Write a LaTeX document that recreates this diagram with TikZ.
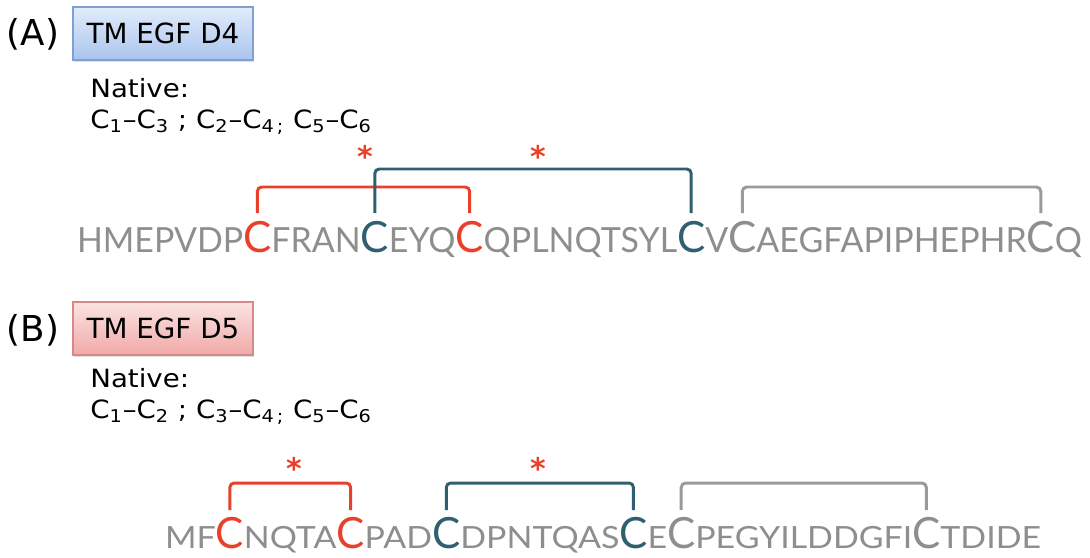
\documentclass[tikz,border=0pt]{standalone}
\usepackage{fontspec}
\setmainfont{DejaVu Sans}
\newfontfamily\seqfont[FakeStretch=0.98]{Lato}
\newfontfamily\seqwide[FakeStretch=1.11]{Lato}
\newfontfamily\notefont[FakeStretch=1.1]{DejaVu Sans}
\usetikzlibrary{positioning,shadows}
\definecolor{cysred}{HTML}{E8412B}
\definecolor{cysteal}{HTML}{2F5F71}
\definecolor{seqgray}{HTML}{8E8E8E}
\definecolor{bondgray}{HTML}{9A9A9A}
\definecolor{blueTop}{HTML}{E2ECFB}
\definecolor{blueBot}{HTML}{AAC4EE}
\definecolor{blueLine}{HTML}{7F9FD6}
\definecolor{redTop}{HTML}{FBE4E3}
\definecolor{redBot}{HTML}{F0A9A7}
\definecolor{redLine}{HTML}{D58A88}
\tikzset{
	seq/.style={inner sep=0pt, outer sep=0pt, text depth=0pt, text=seqgray, font=\seqfont\fontsize{19.7}{20}\selectfont},
	seqb/.style={seq, font=\seqwide\fontsize{17.4}{18}\selectfont},
	cys/.style={inner sep=0pt, outer sep=0pt, text depth=0pt, text=#1, font=\seqfont\fontsize{24.5}{25}\selectfont},
	bond/.style={line width=1.7pt, rounded corners=2.5pt, draw=#1},
	star/.style={text=cysred, font=\bfseries\fontsize{17}{17}\selectfont, inner sep=0pt},
	note/.style={anchor=base west, inner sep=0pt, font=\notefont\fontsize{14.3}{15}\selectfont},
	domainbox/.style={line width=0.6pt, minimum width=3.6cm, minimum height=1.06cm,
		font=\fontsize{15.8}{16}\selectfont, drop shadow={opacity=0.25, shadow xshift=0.6pt, shadow yshift=-1.2pt}},
}
\begin{document}
\begin{tikzpicture}
			\useasboundingbox (0,0) rectangle (21.8,-11.14);
			% panel A
			\node at (0.66,-0.68) (labA) {\fontsize{20.3}{21}\selectfont (A)};
			\node[domainbox, draw=blueLine, top color=blueTop, bottom color=blueBot] at (3.26,-0.67) (boxA) {TM EGF D4};
			\node[note] at (1.8,-1.94) (natA) {Native:};
			\node[note] at (1.8,-2.56) (pairA) {C\textsubscript{1}\textendash C\textsubscript{3} ; C\textsubscript{2}\textendash C\textsubscript{4\,;} C\textsubscript{5}\textendash C\textsubscript{6}};
			
			\node[seq, anchor=base west] at (1.54,-5.04) (a0) {HMEPVDP};
			\node[cys=cysred, base right=0pt of a0] (a1) {C};
			\node[seq, base right=0pt of a1] (a2) {FRAN};
			\node[cys=cysteal, base right=0pt of a2] (a3) {C};
			\node[seq, base right=0pt of a3] (a4) {EYQ};
			\node[cys=cysred, base right=0pt of a4] (a5) {C};
			\node[seq, base right=0pt of a5] (a6) {QPLNQTSYL};
			\node[cys=cysteal, base right=0pt of a6] (a7) {C};
			\node[seq, base right=0pt of a7] (a8) {V};
			\node[cys=seqgray, base right=0pt of a8] (a9) {C};
			\node[seq, base right=0pt of a9] (a10) {AEGFAPIPHEPHR};
			\node[cys=seqgray, base right=0pt of a10] (a11) {C};
			\node[seq, base right=0pt of a11] (a12) {Q};
			
			\coordinate (lowA) at (0,-4.26);
			\coordinate (hiA) at (0,-3.74);
			\coordinate (topA) at (0,-3.38);
			\draw[bond=cysred] (a1.north |- lowA) -- (a1.north |- hiA) -- (a5.north |- hiA) -- (a5.north |- lowA);
			\draw[bond=cysteal] (a3.north |- lowA) -- (a3.north |- topA) -- (a7.north |- topA) -- (a7.north |- lowA);
			\draw[bond=bondgray] (a9.north |- lowA) -- (a9.north |- hiA) -- (a11.north |- hiA) -- (a11.north |- lowA);
			\node[star] at (7.30,-3.12) (starA1) {*};
			\node[star] at (10.76,-3.12) (starA2) {*};
			
			% panel B
			\node at (0.66,-6.6) (labB) {\fontsize{20.3}{21}\selectfont (B)};
			\node[domainbox, draw=redLine, top color=redTop, bottom color=redBot] at (3.26,-6.57) (boxB) {TM EGF D5};
			\node[note] at (1.8,-7.74) (natB) {Native:};
			\node[note] at (1.8,-8.36) (pairB) {C\textsubscript{1}\textendash C\textsubscript{2} ; C\textsubscript{3}\textendash C\textsubscript{4\,;} C\textsubscript{5}\textendash C\textsubscript{6}};
			
			\node[seqb, anchor=base west] at (3.3,-10.96) (b0) {MF};
			\node[cys=cysred, base right=0pt of b0] (b1) {C};
			\node[seqb, base right=0pt of b1] (b2) {NQTA};
			\node[cys=cysred, base right=0pt of b2] (b3) {C};
			\node[seqb, base right=0pt of b3] (b4) {PAD};
			\node[cys=cysteal, base right=0pt of b4] (b5) {C};
			\node[seqb, base right=0pt of b5] (b6) {DPNTQAS};
			\node[cys=cysteal, base right=0pt of b6] (b7) {C};
			\node[seqb, base right=0pt of b7] (b8) {E};
			\node[cys=seqgray, base right=0pt of b8] (b9) {C};
			\node[seqb, base right=0pt of b9] (b10) {PEGYILDDGFI};
			\node[cys=seqgray, base right=0pt of b10] (b11) {C};
			\node[seqb, base right=0pt of b11] (b12) {TDIDE};
			
			\coordinate (lowB) at (0,-10.2);
			\coordinate (hiB) at (0,-9.66);
			\draw[bond=cysred] (b1.north |- lowB) -- (b1.north |- hiB) -- (b3.north |- hiB) -- (b3.north |- lowB);
			\draw[bond=cysteal] (b5.north |- lowB) -- (b5.north |- hiB) -- (b7.north |- hiB) -- (b7.north |- lowB);
			\draw[bond=bondgray] (b9.north |- lowB) -- (b9.north |- hiB) -- (b11.north |- hiB) -- (b11.north |- lowB);
			\node[star] at (5.88,-9.36) (starB1) {*};
			\node[star] at (10.76,-9.36) (starB2) {*};
\end{tikzpicture}
\end{document}
